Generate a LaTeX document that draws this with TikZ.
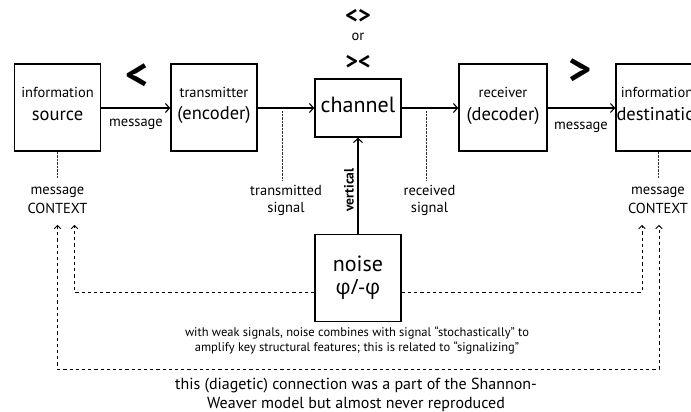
\documentclass[tikz,border=0pt]{standalone}
\usepackage{fontspec}
\setmainfont{PT Sans}
\newfontfamily\grkfont{Open Sans}
\usetikzlibrary{arrows.meta,calc}
\begin{document}
\begin{tikzpicture}[x=1pt,y=-1pt,
  box/.style={draw, line width=1.6pt, inner sep=0pt, minimum width=86pt, minimum height=87pt},
  conn/.style={line width=1.6pt, -{Straight Barb[length=4pt,width=9pt,line width=1.1pt]}},
  dotline/.style={line width=0.7pt, dash pattern=on 0.7pt off 0.7pt, black!80},
  ddashed/.style={line width=0.9pt, dash pattern=on 3.2pt off 3pt},
  ddarrow/.style={ddashed, -{Straight Barb[length=3pt,width=6.5pt,line width=0.9pt]}},
  lbl/.style={inner sep=0pt, anchor=base},
  tA/.style={lbl, font=\fontsize{14.5}{16}\selectfont},
  tB/.style={lbl, font=\fontsize{18.5}{20}\selectfont},
  tC/.style={lbl, font=\fontsize{22}{24}\selectfont},
  tN/.style={lbl, font=\fontsize{12.5}{14}\selectfont},
  tL/.style={lbl, font=\fontsize{16}{18}\selectfont},
  sym/.style={inner sep=0pt, font=\bfseries\fontsize{24}{26}\selectfont},
  bigsym/.style={inner sep=0pt, font=\bfseries\fontsize{44}{46}\selectfont}
]
\useasboundingbox (0,0) rectangle (691,412);
\clip (0,0) rectangle (691,412);

% boxes
\node[box] (src) at (57.5,107.5) {};
\node[box] (trn) at (214,107.5) {};
\node[box, minimum height=58pt] (chn) at (358,108) {};
\node[box, minimum width=88pt] (rcv) at (503,107.5) {};
\node[box, minimum width=87pt] (dst) at (659.5,107.5) {};
\node[box] (noi) at (358,278) {};

% box texts
\node[tA] (srcA) at (57.5,97) {information};
\node[tB] (srcB) at (57.5,120) {source};
\node[tA] (trnA) at (214,97) {transmitter};
\node[tB] (trnB) at (214,119) {(encoder)};
\node[tC] (chnA) at (358,112) {channel};
\node[tA] (rcvA) at (503,98) {receiver};
\node[tB] (rcvB) at (503,120) {(decoder)};
\node[tA] (dstA) at (657,97) {information};
\node[tB] (dstB) at (661,120) {destination};
\node[tC] (noiA) at (358,271) {noise};
\node[tC] (noiB) at (358,294) {{\grkfont\fontsize{21}{23}\selectfont φ/-φ}};

% main connectors
\draw[conn] (src.east |- 0,108) -- (trn.west |- 0,108);
\draw[conn] (trn.east |- 0,108) -- (chn.west |- 0,108);
\draw[conn] (chn.east |- 0,108) -- (rcv.west |- 0,108);
\draw[conn] (rcv.east |- 0,108) -- (dst.west |- 0,108);
\draw[conn] (noi.north) -- (chn.south);

% connector labels
\node[tA] (msg1) at (136,126) {message};
\node[tA] (msg2) at (581,129) {message};
\node[inner sep=0pt, rotate=90, font=\bfseries\fontsize{13.5}{15}\selectfont] (vert) at (349,190) {vertical};

% symbols
\node[bigsym] (lt) at (137,77) {<};
\node[bigsym] (gt) at (580,72) {>};
\node[sym] (ltgt) at (358,16.5) {<>};
\node[tA] (or) at (358,41) {or};
\node[sym] (gtlt) at (358,62) {><};

% context labels
\node[tA] (ctxS1) at (57.5,194) {message};
\node[tA] (ctxS2) at (57.5,213) {CONTEXT};
\node[tA] (ctxD1) at (658,194) {message};
\node[tA] (ctxD2) at (658,213) {CONTEXT};
\node[tA] (tsig1) at (286,195) {transmitted};
\node[tA] (tsig2) at (286,212) {signal};
\node[tA] (rsig1) at (429.5,195) {received};
\node[tA] (rsig2) at (429.5,212) {signal};

% dotted leaders
\coordinate (tsTop) at (282,111);
\coordinate (tsBot) at (282,180);
\coordinate (rsTop) at (426,111);
\coordinate (rsBot) at (426,180);
\draw[dotline] (tsTop) -- (tsBot);
\draw[dotline] (rsTop) -- (rsBot);
\coordinate (ssBot) at (57.5,178);
\coordinate (dsBot) at (658,178);
\draw[dotline] (src.south) -- (ssBot);
\draw[dotline] (dst.south -| dsBot) -- (dsBot);

% dashed feedback lines
\coordinate (inL) at (74.5,225);
\coordinate (inR) at (642,225);
\coordinate (outL) at (57.5,225);
\coordinate (outR) at (659,225);
\draw[ddarrow] ($(noi.west)+(0,14)$) -| (inL);
\draw[ddarrow] ($(noi.east)+(0,14)$) -| (inR);
\draw[ddashed, {Straight Barb[length=3pt,width=6.5pt,line width=0.9pt]}-{Straight Barb[length=3pt,width=6.5pt,line width=0.9pt]}] (outL) |- (358,369) -| (outR);

% notes
\node[tN] (n1) at (357,336) {with weak signals, noise combines with signal “stochastically” to};
\node[tN] (n2) at (357,351) {amplify key structural features; this is related to “signalizing”};
\node[tL] (b1) at (356,389) {this (diagetic) connection was a part of the Shannon-};
\node[tL] (b2) at (356,408) {Weaver model but almost never reproduced};
\end{tikzpicture}
\end{document}
